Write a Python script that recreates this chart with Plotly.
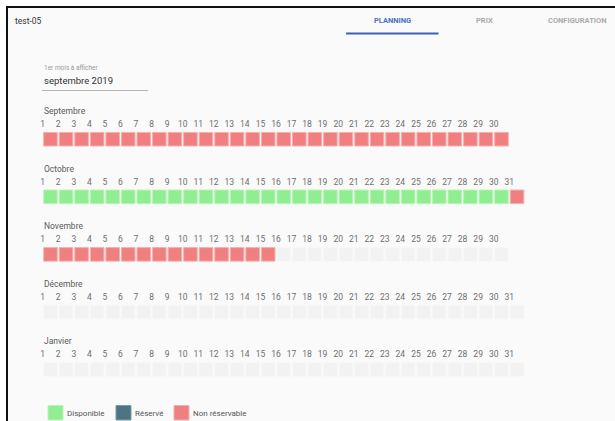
import plotly.graph_objects as go

# ---------------- data ----------------
months = ["Septembre", "Octobre", "Novembre", "Décembre", "Janvier"]
days_in_month = [30, 31, 30, 31, 31]
# D = Disponible, R = Réservé, N = Non réservable, "." = no data
month_status = [
    "NNNNNNNNNNNNNNNNNNNNNNNNNNNNNN",
    "DDDDDDDDDDDDDDDDDDDDDDDDDDDDDDN",
    "NNNNNNNNNNNNNNN...............",
    "...............................",
    "...............................",
]
legend_labels = ["Disponible", "Réservé", "Non réservable"]
legend_codes = ["D", "R", "N"]

fill = {"D": "#90ee90", "R": "#4b7585", "N": "#f08080", ".": "#f2f2f2"}
edge = {"D": "#b8f4b8", "R": "#7f9aa6", "N": "#f6b0b0", ".": "#f7f7f7"}

W, H = 615, 421
def px(x):
    return x / W
def py(y):
    return 1 - y / H

fig = go.Figure()

# cells
for code in ["D", "R", "N", "."]:
    xs, ys = [], []
    for r, st in enumerate(month_status):
        for d, c in enumerate(st, start=1):
            if c == code:
                xs.append(d)
                ys.append(r)
    if xs:
        fig.add_trace(go.Scatter(
            x=xs, y=ys, mode="markers",
            marker=dict(symbol="square", size=13.6, color=fill[code],
                        line=dict(color=edge[code], width=1)),
            hoverinfo="skip", showlegend=False))

# day numbers
lx, ly, lt = [], [], []
for r, n in enumerate(days_in_month):
    for d in range(1, n + 1):
        lx.append(d - 0.5)
        ly.append(r - 0.247)
        lt.append(str(d))
fig.add_trace(go.Scatter(
    x=lx, y=ly, mode="text", text=lt, textposition="middle center",
    textfont=dict(family="Roboto", size=8.5, color="#6e6e6e"),
    hoverinfo="skip", showlegend=False))

annotations = []
for r, m in enumerate(months):
    annotations.append(dict(
        x=0.5, y=r - 0.49, xref="x", yref="y", text=m, showarrow=False,
        xanchor="left", yanchor="middle", xshift=-1,
        font=dict(family="Roboto", size=8.5, color="#5a5a5a")))

# header texts
def txt(x, y, t, size, color, anchor="left", bold=False):
    annotations.append(dict(
        x=px(x), y=py(y), xref="paper", yref="paper",
        text=("<b>%s</b>" % t) if bold else t, showarrow=False,
        xanchor=anchor, yanchor="middle",
        font=dict(family="Roboto", size=size, color=color)))

txt(13, 20.5, "test-05", 8.5, "#333333")
txt(392.5, 20.5, "PLANNING", 7.5, "#4a70b8", "center", True)
txt(484, 20.5, "PRIX", 7.5, "#aaaaaa", "center", True)
txt(577, 20.5, "CONFIGURATION", 7.5, "#aaaaaa", "center", True)
txt(42, 68, "1er mois à afficher", 6.5, "#9a9a9a")
txt(42, 81, "septembre 2019", 9.5, "#333333")

shapes = [
    dict(type="rect", xref="paper", yref="paper",
         x0=px(7), x1=px(640), y0=py(7), y1=py(440),
         fillcolor="#fafafa", line=dict(color="#111111", width=2), layer="below"),
    dict(type="line", xref="paper", yref="paper",
         x0=px(346), x1=px(438.5), y0=py(33.5), y1=py(33.5),
         line=dict(color="#3b63b0", width=2)),
    dict(type="line", xref="paper", yref="paper",
         x0=px(42), x1=px(148), y0=py(90.5), y1=py(90.5),
         line=dict(color="#b5b5b5", width=1)),
]

# legend
leg_x = [48, 116, 174]
for i, (lab, code) in enumerate(zip(legend_labels, legend_codes)):
    x0 = leg_x[i]
    shapes.append(dict(type="rect", xref="paper", yref="paper",
                       x0=px(x0), x1=px(x0 + 15), y0=py(405.5), y1=py(420),
                       fillcolor=fill[code], line=dict(color=edge[code], width=1)))
    txt(x0 + 17, 413, lab, 8, "#555555")

fig.update_layout(
    width=W, height=H, autosize=False,
    margin=dict(l=0, r=0, t=0, b=0),
    paper_bgcolor="#ffffff", plot_bgcolor="rgba(0,0,0,0)",
    xaxis=dict(range=[-2.246, 37.30], visible=False, fixedrange=True),
    yaxis=dict(range=[4.894, -2.418], visible=False, fixedrange=True),
    annotations=annotations, shapes=shapes, showlegend=False,
)

fig.write_html(
    "out.html",
    config={"displayModeBar": False},
    post_script="document.body.style.margin='0';document.body.style.overflow='hidden';",
)
